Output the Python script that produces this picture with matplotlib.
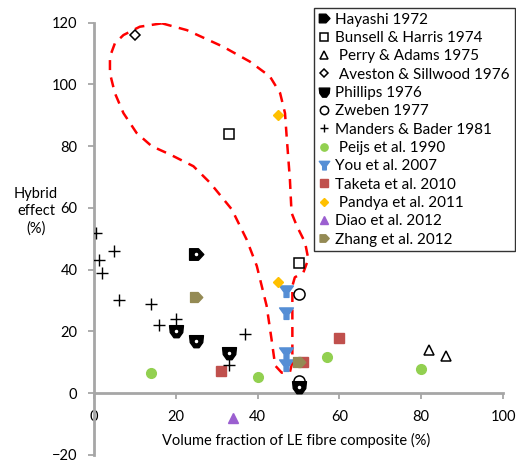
import numpy as np
import matplotlib
matplotlib.use("Agg")
import matplotlib.pyplot as plt
from matplotlib.path import Path

plt.rcParams['font.family'] = ['Lato', 'DejaVu Sans']

# ---- data ----
hayashi_x = [25]
hayashi_y = [45]
bunsell_x = [33, 50]
bunsell_y = [84, 42]
perry_x = [82, 86]
perry_y = [14, 12]
aveston_x = [10]
aveston_y = [116]
phillips_x = [20, 25, 33, 50]
phillips_y = [20, 17, 13, 2]
zweben_x = [50, 50]
zweben_y = [32, 4]
manders_x = [0.5, 5, 1.2, 2, 6, 14, 16, 20, 37, 33]
manders_y = [52, 46, 43, 39, 30, 29, 22, 24, 19, 9]
peijs_x = [14, 40, 57, 80]
peijs_y = [6.6, 5.2, 11.7, 7.8]
you_x = [47, 47, 47, 47]
you_y = [33, 26, 13, 9]
taketa_x = [31, 51, 60]
taketa_y = [7, 10, 18]
pandya_x = [45, 45]
pandya_y = [90, 36]
diao_x = [34]
diao_y = [-8]
zhang_x = [25, 50]
zhang_y = [31, 10]

# outline of the highlighted region (data units)
region_x = [16.6, 22.7, 31.6, 38.1, 43.0, 45.5, 46.7, 47.1, 47.9, 48.3, 49.6, 51.6,
            52.4, 51.2, 49.1, 48.5, 48.5, 48.5, 47.9, 45.9, 44.3, 43.4, 42.2, 39.8,
            37.3, 33.7, 28.4, 24.3, 18.6, 14.1, 10.4, 7.2, 5.1, 3.9, 3.9, 5.1, 7.2,
            11.2, 16.6]
region_y = [119.8, 117.6, 112.2, 107.4, 102.6, 97.2, 90.7, 83.2, 69.2, 58.4, 54.1, 48.8,
            43.4, 39.1, 37.5, 34.7, 21.8, 10.0, 6.8, 6.6, 8.9, 17.5, 28.3, 41.2,
            49.8, 59.5, 68.1, 73.5, 77.3, 80.0, 84.3, 90.7, 97.2, 103.6, 109.0, 113.3, 116.0,
            118.7, 119.8]

x_ticks = [0, 20, 40, 60, 80, 100]
y_ticks = [-20, 0, 20, 40, 60, 80, 100, 120]

# ---- custom marker shapes ----
plate_right = Path([(-0.9, -0.75), (0.25, -0.75), (0.95, 0.0), (0.25, 0.75), (-0.9, 0.75), (-0.9, -0.75)],
                   [Path.MOVETO] + [Path.LINETO] * 4 + [Path.CLOSEPOLY])
shield_down = Path([(-0.95, 0.8), (0.95, 0.8), (0.85, -0.15), (0.35, -0.85), (-0.35, -0.85), (-0.85, -0.15), (-0.95, 0.8)],
                   [Path.MOVETO] + [Path.LINETO] * 5 + [Path.CLOSEPOLY])
funnel = Path([(-1.0, 0.8), (1.0, 0.8), (0.35, -0.1), (0.35, -0.85), (-0.35, -0.85), (-0.35, -0.1), (-1.0, 0.8)],
              [Path.MOVETO] + [Path.LINETO] * 5 + [Path.CLOSEPOLY])

fig = plt.figure(figsize=(5.16, 4.62), dpi=100)
ax = fig.add_axes([94 / 516, 1 - 454.8 / 462, (503 - 94) / 516, (454.8 - 22.7) / 462])

ax.plot(region_x, region_y, color='#FF0000', lw=1.8, dashes=(4, 3), zorder=1)

gray = '#A6A6A6'
ms_kw = dict(linestyle='none')
ax.plot(hayashi_x, hayashi_y, marker=plate_right, ms=10.5, color='black', label='Hayashi 1972', zorder=5, **ms_kw)
ax.plot(bunsell_x, bunsell_y, marker='s', ms=7.5, mfc='white', mec='black', mew=1.1, label='Bunsell & Harris 1974', zorder=4, **ms_kw)
ax.plot(perry_x, perry_y, marker='^', ms=7.5, mfc='white', mec='black', mew=1.1, label=' Perry & Adams 1975', zorder=4, **ms_kw)
ax.plot(aveston_x, aveston_y, marker='D', ms=5.5, mfc='white', mec='black', mew=1.1, label=' Aveston & Sillwood 1976', zorder=4, **ms_kw)
ax.plot(zweben_x, zweben_y, marker='o', ms=8, mfc='white', mec='black', mew=1.1, label='Zweben 1977', zorder=4, **ms_kw)
ax.plot(phillips_x, phillips_y, marker=shield_down, ms=10, color='black', label='Phillips 1976', zorder=5, **ms_kw)
ax.plot(manders_x, manders_y, marker='+', ms=8, color='black', mew=1.0, label='Manders & Bader 1981', zorder=4, **ms_kw)
ax.plot(peijs_x, peijs_y, marker='o', ms=7, color='#92D050', label=' Peijs et al. 1990', zorder=4, **ms_kw)
ax.plot(you_x, you_y, marker=funnel, ms=10, color='#558ED5', label='You et al. 2007', zorder=4, **ms_kw)
ax.plot(taketa_x, taketa_y, marker='s', ms=7, color='#C0504D', label='Taketa et al. 2010', zorder=3, **ms_kw)
ax.plot(pandya_x, pandya_y, marker='D', ms=5, color='#FFC000', label=' Pandya et al. 2011', zorder=4, **ms_kw)
ax.plot(diao_x, diao_y, marker='^', ms=7, color='#9B5FD0', label='Diao et al. 2012', zorder=4, **ms_kw)
ax.plot(zhang_x, zhang_y, marker=plate_right, ms=9, color='#948A54', label='Zhang et al. 2012', zorder=4, **ms_kw)

# white dots inside black markers
ax.plot(hayashi_x, hayashi_y, marker='o', ms=1.5, color='white', linestyle='none', zorder=6)
ax.plot(phillips_x, phillips_y, marker='o', ms=1.5, color='white', linestyle='none', zorder=6)

handles, labels = ax.get_legend_handles_labels()
order = ['Hayashi 1972', 'Bunsell & Harris 1974', ' Perry & Adams 1975', ' Aveston & Sillwood 1976',
         'Phillips 1976', 'Zweben 1977', 'Manders & Bader 1981', ' Peijs et al. 1990', 'You et al. 2007',
         'Taketa et al. 2010', ' Pandya et al. 2011', 'Diao et al. 2012', 'Zhang et al. 2012']
hmap = dict(zip(labels, handles))
leg = fig.legend([hmap[l] for l in order], order, loc='upper left',
                 bbox_to_anchor=(314 / 516, 1 - 8 / 462, (515 - 314) / 516, 0), mode='expand',
                 fontsize=11, frameon=True,
                 fancybox=False, edgecolor='black', handlelength=0.7, handletextpad=0.35,
                 labelspacing=0.285, borderpad=0.3, borderaxespad=0.0, markerscale=0.75)
leg.get_frame().set_linewidth(1.0)

ax.set_xlim(0, 100)
ax.set_ylim(-20, 120)
ax.set_xticks(x_ticks)
ax.set_yticks(y_ticks)
for s in ['top', 'right']:
    ax.spines[s].set_visible(False)
ax.spines['bottom'].set_position(('data', 0))
for s in ['left', 'bottom']:
    ax.spines[s].set_color(gray)
    ax.spines[s].set_linewidth(2)
ax.tick_params(axis='both', colors=gray, labelcolor='black', labelsize=10.5, length=4, width=1.3)
ax.tick_params(axis='x', pad=8)
ax.tick_params(axis='y', pad=8)

ax.text(49.5, -15.3, 'Volume fraction of LE fibre composite (%)', ha='center', va='center', fontsize=10.5)
ax.text(-14.2, 58.9, 'Hybrid\neffect\n(%)', ha='center', va='center', fontsize=10.5, linespacing=1.25)

fig.savefig('out.png', dpi=100)
